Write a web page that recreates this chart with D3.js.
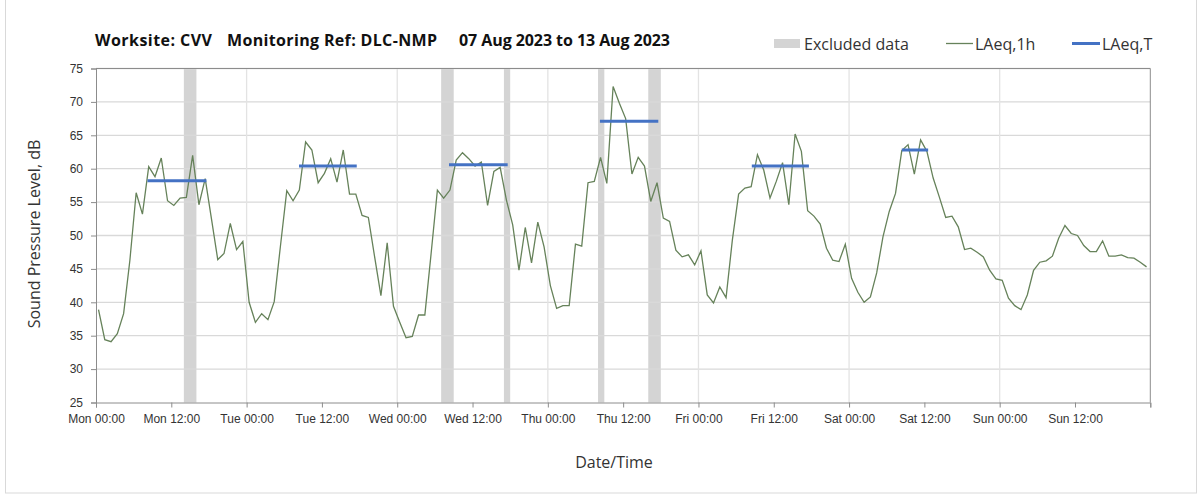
<!DOCTYPE html>
<html>
<head>
<meta charset="utf-8">
<script src="https://cdn.jsdelivr.net/npm/d3@7"></script>
<style>
  body { margin: 0; background: #fff; }
  svg { display: block; font-family: "Open Sans", "DejaVu Sans", sans-serif; }
</style>
</head>
<body>
<div id="vis"></div>
<script>
// hourly LAeq,1h values, Mon 00:00 to Sun 23:00
var laeq1h = [
  38.9, 34.4, 34.1, 35.3, 38.3, 46.3, 56.4, 53.2, 60.3, 58.8, 61.6, 55.2, 54.5, 55.6, 55.7, 62.0, 54.6, 58.5, 52.5, 46.4, 47.3, 51.8, 47.9, 49.1,
  40.0, 37.0, 38.3, 37.4, 40.1, 48.5, 56.7, 55.2, 56.8, 64.0, 62.8, 57.9, 59.3, 61.5, 58.0, 62.8, 56.2, 56.2, 53.0, 52.7, 46.8, 41.0, 48.9, 39.4,
  37.0, 34.7, 34.9, 38.1, 38.1, 47.3, 56.8, 55.6, 56.8, 61.3, 62.4, 61.5, 60.4, 61.0, 54.5, 59.6, 60.2, 55.3, 51.6, 44.8, 51.2, 45.9, 52.0, 48.3,
  42.5, 39.1, 39.5, 39.5, 48.7, 48.4, 57.9, 58.1, 61.7, 57.8, 72.3, 69.8, 67.5, 59.2, 61.7, 60.4, 55.1, 57.9, 52.6, 52.1, 47.8, 46.8, 47.1, 45.6,
  47.7, 41.1, 39.9, 42.3, 40.7, 49.3, 56.2, 57.1, 57.3, 62.1, 59.8, 55.6, 58.1, 60.9, 54.6, 65.2, 62.6, 53.7, 52.9, 51.7, 48.1, 46.3, 46.1, 48.7,
  43.6, 41.5, 40.0, 40.8, 44.4, 49.8, 53.6, 56.3, 62.7, 63.6, 59.2, 64.3, 62.6, 58.6, 55.7, 52.7, 52.9, 51.3, 47.9, 48.1, 47.5, 46.8, 44.8, 43.5,
  43.3, 40.6, 39.5, 38.9, 41.1, 44.8, 46.0, 46.2, 46.9, 49.6, 51.5, 50.3, 50.0, 48.5, 47.6, 47.6, 49.2, 46.9, 46.9, 47.1, 46.7, 46.6, 46.0, 45.3
];

// LAeq,T periods: [start hour, end hour, level]
var laeqT = [
  [8.2, 17.6, 58.2],
  [32.35, 41.55, 60.4],
  [56.25, 65.6, 60.6],
  [80.3, 89.6, 67.1],
  [104.5, 113.6, 60.4],
  [128.4, 132.6, 62.8]
];

// excluded periods: [start hour, end hour]
var excluded = [[14, 16], [55, 57], [65, 66], [80, 81], [88, 90]];

var days = ["Mon", "Tue", "Wed", "Thu", "Fri", "Sat", "Sun"];
var xTicks = d3.range(0, 168, 12);
var yTicks = d3.range(25, 80, 5);

var width = 1203, height = 495;
var margin = { top: 68.5, bottom: 92.5, left: 96, right: 52.7 };

var svg = d3.select('#vis')
  .append('svg')
  .attr('width', width)
  .attr('height', height);

// chart area border
svg.append('rect')
  .attr('x', 5.5).attr('y', -2)
  .attr('width', 1191).attr('height', 495)
  .attr('fill', 'none')
  .attr('stroke', '#d9d9d9');

var x = d3.scaleLinear().domain([0, 168]).range([margin.left, width - margin.right]);
var y = d3.scaleLinear().domain([25, 75]).range([height - margin.bottom, margin.top]);

// excluded bands
svg.selectAll('.excl')
  .data(excluded)
  .enter()
  .append('rect')
  .attr('class', 'excl')
  .attr('x', function(d) { return x(d[0]); })
  .attr('width', function(d) { return x(d[1]) - x(d[0]); })
  .attr('y', y(75))
  .attr('height', y(25) - y(75))
  .attr('fill', '#d4d4d4');

// horizontal gridlines
svg.append('g')
  .selectAll('line')
  .data(yTicks.slice(1))
  .enter()
  .append('line')
  .attr('x1', x(0)).attr('x2', x(168))
  .attr('y1', function(d) { return y(d); })
  .attr('y2', function(d) { return y(d); })
  .attr('stroke', '#d9d9d9')
  .attr('stroke-width', 1.3);

// vertical gridlines at midnight
svg.append('g')
  .selectAll('line')
  .data(d3.range(24, 168, 24))
  .enter()
  .append('line')
  .attr('x1', function(d) { return x(d); })
  .attr('x2', function(d) { return x(d); })
  .attr('y1', y(75)).attr('y2', y(25))
  .attr('stroke', '#e3e3e3')
  .attr('stroke-width', 1.3);

// plot area border (top/right)
svg.append('path')
  .attr('d', 'M' + x(0) + ',' + y(75) + 'H' + x(168) + 'V' + y(25))
  .attr('fill', 'none')
  .attr('stroke', '#8c8c8c');

// axes
var xAxis = d3.axisBottom(x)
  .tickValues(xTicks.concat([168]))
  .tickSize(5)
  .tickFormat(function(d) {
    if (d >= 168) return '';
    return days[Math.floor(d / 24)] + (d % 24 === 0 ? ' 00:00' : ' 12:00');
  });

var gx = svg.append('g')
  .attr('transform', 'translate(0,' + y(25) + ')')
  .call(xAxis);
gx.select('.domain').attr('stroke', '#8c8c8c');
gx.selectAll('.tick line').attr('stroke', '#8c8c8c');
gx.selectAll('.tick text')
  .attr('dy', '1.05em')
  .attr('fill', '#333')
  .style('font-size', '12px');

var yAxis = d3.axisLeft(y).tickValues(yTicks).tickSize(5).tickPadding(8);
var gy = svg.append('g')
  .attr('transform', 'translate(' + x(0) + ',0)')
  .call(yAxis);
gy.select('.domain').attr('stroke', '#8c8c8c');
gy.selectAll('.tick line').attr('stroke', '#8c8c8c');
gy.selectAll('.tick text')
  .attr('fill', '#333')
  .style('font-size', '12px');

// LAeq,1h line
var line = d3.line()
  .x(function(d, i) { return x(i + 0.4); })
  .y(function(d) { return y(d); });

svg.append('path')
  .datum(laeq1h)
  .attr('d', line)
  .attr('fill', 'none')
  .attr('stroke', '#66825a')
  .attr('stroke-width', 1.3);

// LAeq,T lines
svg.selectAll('.laeqT')
  .data(laeqT)
  .enter()
  .append('line')
  .attr('class', 'laeqT')
  .attr('x1', function(d) { return x(d[0]); })
  .attr('x2', function(d) { return x(d[1]); })
  .attr('y1', function(d) { return y(d[2]); })
  .attr('y2', function(d) { return y(d[2]); })
  .attr('stroke', '#4472c4')
  .attr('stroke-width', 3);

// title
var title = svg.append('g')
  .style('font-size', '16px')
  .style('font-weight', 'bold')
  .attr('fill', '#111');
title.append('text').attr('x', 95).attr('y', 46).attr('textLength', 117).text('Worksite: CVV');
title.append('text').attr('x', 227).attr('y', 46).attr('textLength', 210).text('Monitoring Ref: DLC-NMP');
title.append('text').attr('x', 459).attr('y', 46).attr('textLength', 211).text('07 Aug 2023 to 13 Aug 2023');

// legend
var legend = svg.append('g').style('font-size', '16px').attr('fill', '#333');
legend.append('rect').attr('x', 774).attr('y', 39).attr('width', 26).attr('height', 9).attr('fill', '#d4d4d4');
legend.append('text').attr('x', 804).attr('y', 49.5).text('Excluded data');
legend.append('line').attr('x1', 946).attr('x2', 973).attr('y1', 43.5).attr('y2', 43.5)
  .attr('stroke', '#66825a').attr('stroke-width', 1.3);
legend.append('text').attr('x', 975).attr('y', 49.5).text('LAeq,1h');
legend.append('line').attr('x1', 1072).attr('x2', 1100).attr('y1', 43.5).attr('y2', 43.5)
  .attr('stroke', '#4472c4').attr('stroke-width', 3);
legend.append('text').attr('x', 1102).attr('y', 49.5).text('LAeq,T');

// axis titles
svg.append('text')
  .attr('transform', 'translate(40,' + 234 + ') rotate(-90)')
  .attr('text-anchor', 'middle')
  .style('font-size', '16px')
  .attr('fill', '#333')
  .text('Sound Pressure Level, dB');

svg.append('text')
  .attr('x', 614).attr('y', 468)
  .attr('text-anchor', 'middle')
  .style('font-size', '16px')
  .attr('fill', '#333')
  .text('Date/Time');
</script>
</body>
</html>
